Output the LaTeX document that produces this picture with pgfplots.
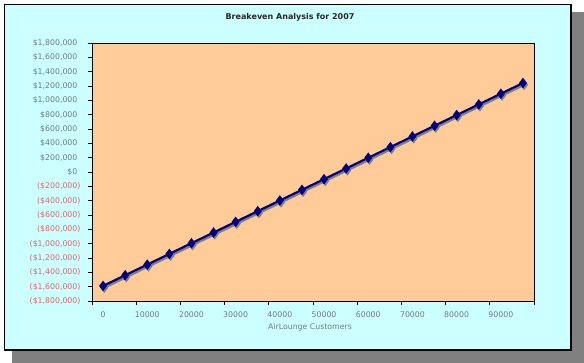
\documentclass[border=0pt]{standalone}
\usepackage{fontspec}
\setmainfont{DejaVu Sans}
\usepackage{pgfplots}
\pgfplotsset{compat=1.18}
\definecolor{bgcyan}{HTML}{CCFFFF}
\definecolor{plotorange}{HTML}{FFCC99}
\definecolor{ticgray}{RGB}{110,125,125}
\definecolor{negred}{RGB}{225,100,100}
\definecolor{navyblue}{HTML}{000080}
\definecolor{shadowgray}{HTML}{808080}
\newcommand{\pos}[1]{\textcolor{ticgray}{#1\phantom{)}}}
\newcommand{\negv}[1]{\textcolor{negred}{(#1)}}
\begin{document}
\begin{tikzpicture}
\useasboundingbox (0pt,0pt) rectangle (584pt,363pt);
\fill[shadowgray] (12pt,0pt) rectangle (584pt,351pt);
\filldraw[fill=bgcyan, draw=black, line width=1.2pt] (4.5pt,13pt) rectangle (571pt,358.5pt);
\node[font=\fontsize{8}{9}\selectfont\bfseries, text=black!85] at (290pt,346pt) {Breakeven Analysis for 2007};
\begin{axis}[
  at={(92pt,62pt)}, anchor=south west, scale only axis,
  width=442pt, height=258pt,
  axis background/.style={fill=plotorange},
  xmin=-2500, xmax=97500, ymin=-1800000, ymax=1800000,
  scaled x ticks=false, scaled y ticks=false,
  axis line style={black, line width=0.8pt},
  tick align=outside, major tick length=4pt,
  tick style={black, line width=0.8pt},
  xtick pos=left, ytick pos=left,
  xtick={-2500,7500,17500,27500,37500,47500,57500,67500,77500,87500,97500},
  xticklabels={},
  extra x ticks={0,10000,20000,30000,40000,50000,60000,70000,80000,90000},
  extra x tick labels={0,10000,20000,30000,40000,50000,60000,70000,80000,90000},
  extra x tick style={major tick length=0pt, tick style={draw=none}},
  xticklabel style={font=\fontsize{7.8}{9}\selectfont, text=ticgray, yshift=-7pt},
  ytick={-1800000,-1600000,-1400000,-1200000,-1000000,-800000,-600000,-400000,-200000,0,200000,400000,600000,800000,1000000,1200000,1400000,1600000,1800000},
  yticklabels={\negv{\$1,800,000},\negv{\$1,600,000},\negv{\$1,400,000},\negv{\$1,200,000},\negv{\$1,000,000},\negv{\$800,000},\negv{\$600,000},\negv{\$400,000},\negv{\$200,000},\pos{\$0},\pos{\$200,000},\pos{\$400,000},\pos{\$600,000},\pos{\$800,000},\pos{\$1,000,000},\pos{\$1,200,000},\pos{\$1,400,000},\pos{\$1,600,000},\pos{\$1,800,000}},
  yticklabel style={font=\fontsize{7.8}{9}\selectfont, xshift=-4pt},
  xlabel={AirLounge Customers},
  xlabel style={at={(axis description cs:0.5,0)}, anchor=center, yshift=-26.7pt, xshift=-3pt, font=\fontsize{7.8}{9}\selectfont, text=ticgray},
  clip=false,
]
\addplot[shadowgray, line width=2.2pt, mark=diamond*, mark size=3.5pt, mark options={fill=shadowgray, draw=shadowgray}, xshift=1.2pt, yshift=-1.8pt] table {
x y
0 -1590000
5000 -1441000
10000 -1292000
15000 -1143000
20000 -994000
25000 -845000
30000 -696000
35000 -547000
40000 -398000
45000 -249000
50000 -100000
55000 49000
60000 198000
65000 347000
70000 496000
75000 645000
80000 794000
85000 943000
90000 1092000
95000 1241000
};
\addplot[navyblue, line width=2.2pt, mark=diamond*, mark size=3.5pt, mark options={fill=navyblue, draw=navyblue}] table {
x y
0 -1590000
5000 -1441000
10000 -1292000
15000 -1143000
20000 -994000
25000 -845000
30000 -696000
35000 -547000
40000 -398000
45000 -249000
50000 -100000
55000 49000
60000 198000
65000 347000
70000 496000
75000 645000
80000 794000
85000 943000
90000 1092000
95000 1241000
};
\end{axis}
\end{tikzpicture}
\end{document}
